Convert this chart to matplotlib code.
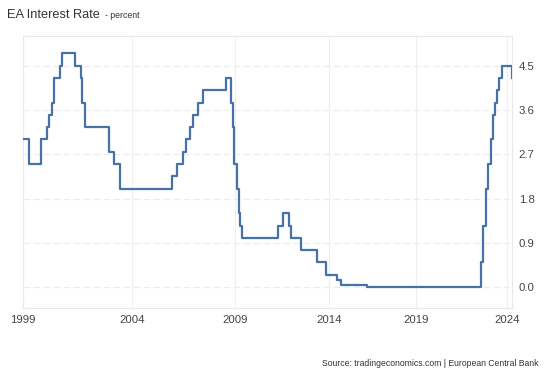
import numpy as np
import pandas as pd
import matplotlib
matplotlib.use("Agg")
import matplotlib.pyplot as plt

# ECB main refinancing rate, effective dates of each change
dates = ["1999-01-01", "1999-04-09", "1999-11-05", "2000-02-04", "2000-03-17",
         "2000-04-28", "2000-06-09", "2000-09-06", "2000-10-11", "2001-05-15",
         "2001-08-31", "2001-09-18", "2001-11-09", "2002-12-06", "2003-03-07",
         "2003-06-06", "2005-12-06", "2006-03-08", "2006-06-15", "2006-08-09",
         "2006-10-11", "2006-12-13", "2007-03-14", "2007-06-13", "2008-07-09",
         "2008-10-15", "2008-11-12", "2008-12-10", "2009-01-21", "2009-03-11",
         "2009-04-08", "2009-05-13", "2011-04-13", "2011-07-13", "2011-11-09",
         "2011-12-14", "2012-07-11", "2013-05-08", "2013-11-13", "2014-06-11",
         "2014-09-10", "2016-03-16", "2022-07-27", "2022-09-14", "2022-11-02",
         "2022-12-21", "2023-02-08", "2023-03-22", "2023-05-10", "2023-06-21",
         "2023-08-02", "2023-09-20", "2024-06-12"]
rates = [3.00, 2.50, 3.00, 3.25, 3.50,
         3.75, 4.25, 4.50, 4.75, 4.50,
         4.25, 3.75, 3.25, 2.75, 2.50,
         2.00, 2.25, 2.50, 2.75, 3.00,
         3.25, 3.50, 3.75, 4.00, 4.25,
         3.75, 3.25, 2.50, 2.00, 1.50,
         1.25, 1.00, 1.25, 1.50, 1.25,
         1.00, 0.75, 0.50, 0.25, 0.15,
         0.05, 0.00, 0.50, 1.25, 2.00,
         2.50, 3.00, 3.50, 3.75, 4.00,
         4.25, 4.50, 4.25]

year_ticks = [1999, 2004, 2009, 2014, 2019, 2024]
y_ticks = [0.0, 0.9, 1.8, 2.7, 3.6, 4.5]

d = pd.to_datetime(dates)
days = np.where(d.is_leap_year, 366, 365)
x = d.year + (d.dayofyear - 1) / days
x = np.asarray(x, dtype=float)

# the source chart uses an uneven (ordinal-like) time axis: map years piecewise
anchor_yr = [1990, 1999, 2004, 2009, 2014, 2019, 2024, 2024.445, 2030]
anchor_px = [-175, 22.7, 132.5, 235.5, 329, 416, 507, 511.7, 620]

def fwd(v):
    return np.interp(v, anchor_yr, anchor_px)

def inv(v):
    return np.interp(v, anchor_px, anchor_yr)

plt.rcParams['font.family'] = ['Liberation Sans', 'DejaVu Sans']

fig = plt.figure(figsize=(5.5, 3.76), dpi=100)
ax = fig.add_axes([22.7 / 550, 1 - 307.7 / 376, (511.7 - 22.7) / 550, (307.7 - 35.7) / 376])
ax.set_xscale('function', functions=(fwd, inv))

ax.step(x, rates, where='post', color='#4672a8', linewidth=1.6, zorder=3)

ax.set_xlim(x[0], x[-1])
ax.set_ylim(-0.42, 5.11)
ax.set_xticks(year_ticks)
ax.set_xticklabels([str(t) for t in year_ticks])
ax.set_yticks(y_ticks)
ax.set_yticklabels([f"{t:.1f}" for t in y_ticks])
ax.yaxis.tick_right()
ax.tick_params(axis='both', length=0, labelsize=8.2, labelcolor='#444444')
ax.tick_params(axis='x', pad=5)
ax.tick_params(axis='y', pad=5)

ax.grid(axis='y', color='#ececec', linewidth=0.8, linestyle=(0, (6, 3)))
ax.grid(axis='x', color='#eeeeee', linewidth=0.8)
for s in ax.spines.values():
    s.set_color('#e8e8e8')
    s.set_linewidth(0.8)

fig.text(7 / 550, 1 - 15 / 376, "EA Interest Rate", fontsize=9.2, color='#333333', va='center', ha='left')
fig.text(105 / 550, 1 - 15.5 / 376, "- percent", fontsize=6.3, color='#333333', va='center', ha='left')
fig.text(539 / 550, 1 - 364 / 376, "Source: tradingeconomics.com | European Central Bank",
         fontsize=6.2, color='#333333', va='center', ha='right')

fig.savefig("out.png", dpi=100)
